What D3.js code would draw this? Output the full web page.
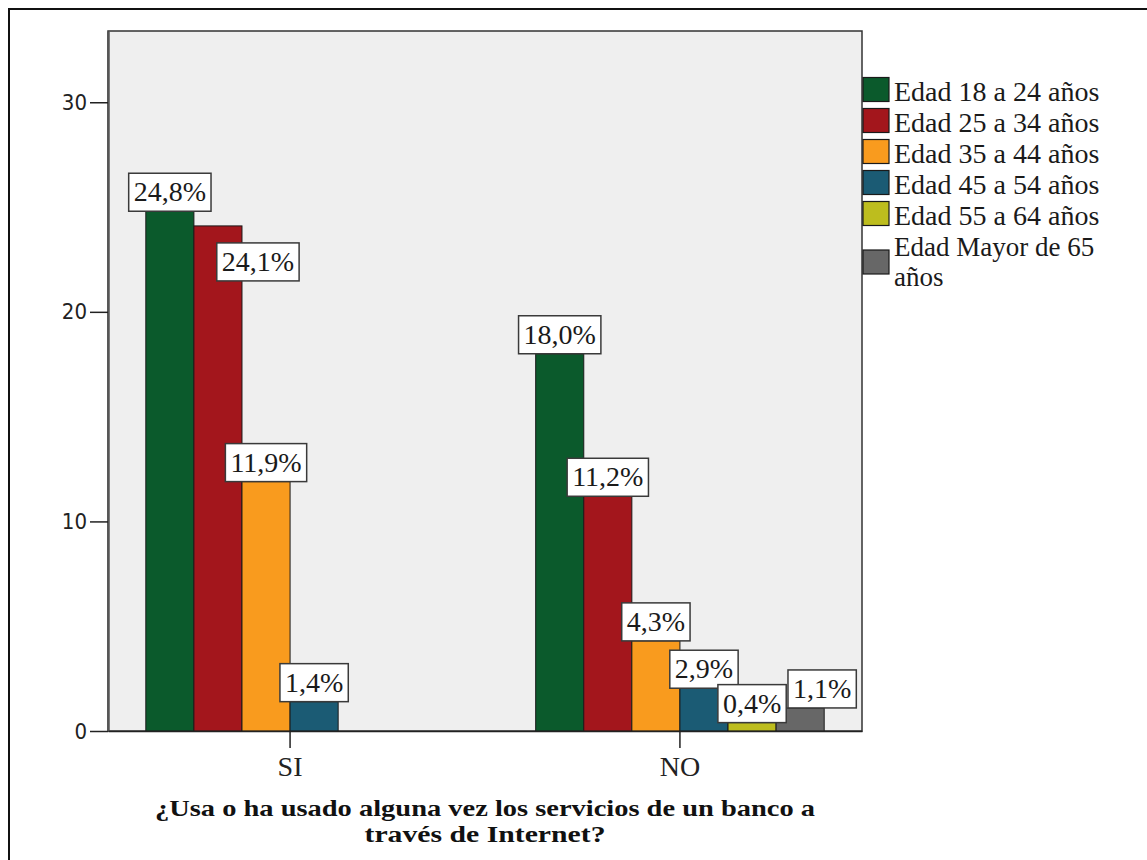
<!DOCTYPE html>
<html>
<head>
<meta charset="utf-8">
<script src="https://cdn.jsdelivr.net/npm/d3@7/dist/d3.min.js"></script>
<style>
  html, body { margin: 0; padding: 0; background: #ffffff; }
  svg { display: block; }
</style>
</head>
<body>
<svg id="chart" width="1147" height="860"></svg>
<script>
// Answer categories on the x axis
const groups = ["SI", "NO"];
// Age bands (one bar per band inside each answer)
const ageBands = [
  "Edad 18 a 24 años",
  "Edad 25 a 34 años",
  "Edad 35 a 44 años",
  "Edad 45 a 54 años",
  "Edad 55 a 64 años",
  "Edad Mayor de 65 años"
];
// Percentages per answer, in age-band order
const valuesSI = [24.8, 24.1, 11.9, 1.4, 0, 0];
const valuesNO = [18.0, 11.2, 4.3, 2.9, 0.4, 1.1];
// Y axis ticks
const yTicks = [0, 10, 20, 30];
const yMax = 33.4;
// Axis title
const axisTitleLines = [
  "¿Usa o ha usado alguna vez los servicios de un banco a",
  "través de Internet?"
];

const bandColors = ["#0b5a2c", "#a3161c", "#f99b1e", "#1b5b74", "#bdbd1e", "#676767"];

// Label nudges (px) where a value box would collide with its neighbour
const labelNudge = {
  "SI|1": [40, 55],
  "NO|3": [0, 18],
  "NO|5": [22, 0]
};

const seriesByGroup = { SI: valuesSI, NO: valuesNO };
const serif = "'Liberation Serif', 'Times New Roman', serif";

const svg = d3.select("#chart");
const plot = { left: 108, right: 862, top: 31, bottom: 731 };

// Outer frame (left and top edges visible)
svg.append("rect")
  .attr("x", 9).attr("y", 9)
  .attr("width", 1300).attr("height", 1000)
  .attr("fill", "none").attr("stroke", "#111").attr("stroke-width", 2);

// Plot background
svg.append("rect")
  .attr("x", plot.left).attr("y", plot.top)
  .attr("width", plot.right - plot.left).attr("height", plot.bottom - plot.top)
  .attr("fill", "#efefef").attr("stroke", "#333").attr("stroke-width", 1.5);

const x0 = d3.scaleBand()
  .domain(groups)
  .range([plot.left, plot.right])
  .paddingInner(0.26)
  .paddingOuter(0.097);

const x1 = d3.scaleBand()
  .domain(d3.range(ageBands.length))
  .range([0, x0.bandwidth()]);

const y = d3.scaleLinear().domain([0, yMax]).range([plot.bottom, plot.top]);

// Bars
const gBars = svg.append("g");
groups.forEach(g => {
  const vals = seriesByGroup[g];
  gBars.selectAll(null)
    .data(vals.map((v, i) => ({ g, i, v })))
    .enter().append("rect")
    .attr("x", d => x0(d.g) + x1(d.i))
    .attr("y", d => y(d.v))
    .attr("width", x1.bandwidth())
    .attr("height", d => y(0) - y(d.v))
    .attr("fill", d => bandColors[d.i])
    .attr("stroke", "#1a1a1a")
    .attr("stroke-width", 1);
});

// Y axis
const yAxis = d3.axisLeft(y).tickValues(yTicks).tickSizeInner(18).tickSizeOuter(0)
  .tickPadding(3).tickFormat(d3.format("d"));
const gy = svg.append("g").attr("transform", `translate(${plot.left},0)`).call(yAxis);
gy.select(".domain").attr("stroke", "#555").attr("stroke-width", 2.5);
gy.selectAll(".tick line").attr("stroke", "#222").attr("stroke-width", 1.5);
gy.selectAll(".tick text")
  .attr("font-family", "'DejaVu Sans Condensed', 'DejaVu Sans', sans-serif")
  .attr("font-size", 22).attr("fill", "#222");

// X axis
const xAxis = d3.axisBottom(x0).tickSizeInner(17).tickSizeOuter(0).tickPadding(8);
const gx = svg.append("g").attr("transform", `translate(0,${plot.bottom})`).call(xAxis);
gx.select(".domain").attr("stroke", "#222").attr("stroke-width", 1.5);
gx.selectAll(".tick line").attr("stroke", "#222").attr("stroke-width", 1.5);
gx.selectAll(".tick text")
  .attr("font-family", serif)
  .attr("font-size", 28).attr("fill", "#222");

// Value labels in boxes
const fmt = v => v.toFixed(1).replace(".", ",") + "%";
const gLab = svg.append("g");
groups.forEach(g => {
  seriesByGroup[g].forEach((v, i) => {
    if (v <= 0) return;
    const nudge = labelNudge[g + "|" + i] || [0, 0];
    const cx = x0(g) + x1(i) + x1.bandwidth() / 2 + nudge[0];
    const bottom = y(v) + nudge[1];
    const h = 38;
    const grp = gLab.append("g");
    const rect = grp.append("rect");
    const t = grp.append("text")
      .attr("x", cx).attr("y", bottom - 10)
      .attr("text-anchor", "middle")
      .attr("font-family", serif)
      .attr("font-size", 28).attr("fill", "#1a1a1a")
      .text(fmt(v));
    const w = t.node().getComputedTextLength() + 10;
    rect.attr("x", cx - w / 2).attr("y", bottom - h)
      .attr("width", w).attr("height", h)
      .attr("fill", "#ffffff").attr("stroke", "#3a3a3a").attr("stroke-width", 1.5);
  });
});

// Legend
const legend = svg.append("g");
const legX = 863, legTop = 101, rowGap = 31, wrapGap = 30;
ageBands.forEach((name, i) => {
  const wrapped = i === ageBands.length - 1;
  const lines = wrapped ? ["Edad Mayor de 65", "años"] : [name];
  const base = legTop + i * rowGap;
  const sqCenter = wrapped ? base + wrapGap / 2 - 9 : base - 11.5;
  legend.append("rect")
    .attr("x", legX).attr("y", sqCenter - 12)
    .attr("width", 26).attr("height", 24)
    .attr("fill", bandColors[i]).attr("stroke", "#1a1a1a").attr("stroke-width", 1.2);
  lines.forEach((ln, k) => {
    legend.append("text")
      .attr("x", legX + 31).attr("y", base + k * wrapGap)
      .attr("font-family", serif)
      .attr("font-size", wrapped ? 27 : 28).attr("fill", "#1a1a1a")
      .text(ln);
  });
});

// Axis title
const titleCx = (plot.left + plot.right) / 2;
const titleWidths = [660, 241];
axisTitleLines.forEach((ln, k) => {
  svg.append("text")
    .attr("x", titleCx).attr("y", 816 + k * 26)
    .attr("text-anchor", "middle")
    .attr("font-family", serif)
    .attr("font-weight", "bold")
    .attr("font-size", 23).attr("fill", "#111")
    .attr("textLength", titleWidths[k])
    .attr("lengthAdjust", "spacingAndGlyphs")
    .text(ln);
});
</script>
</body>
</html>
